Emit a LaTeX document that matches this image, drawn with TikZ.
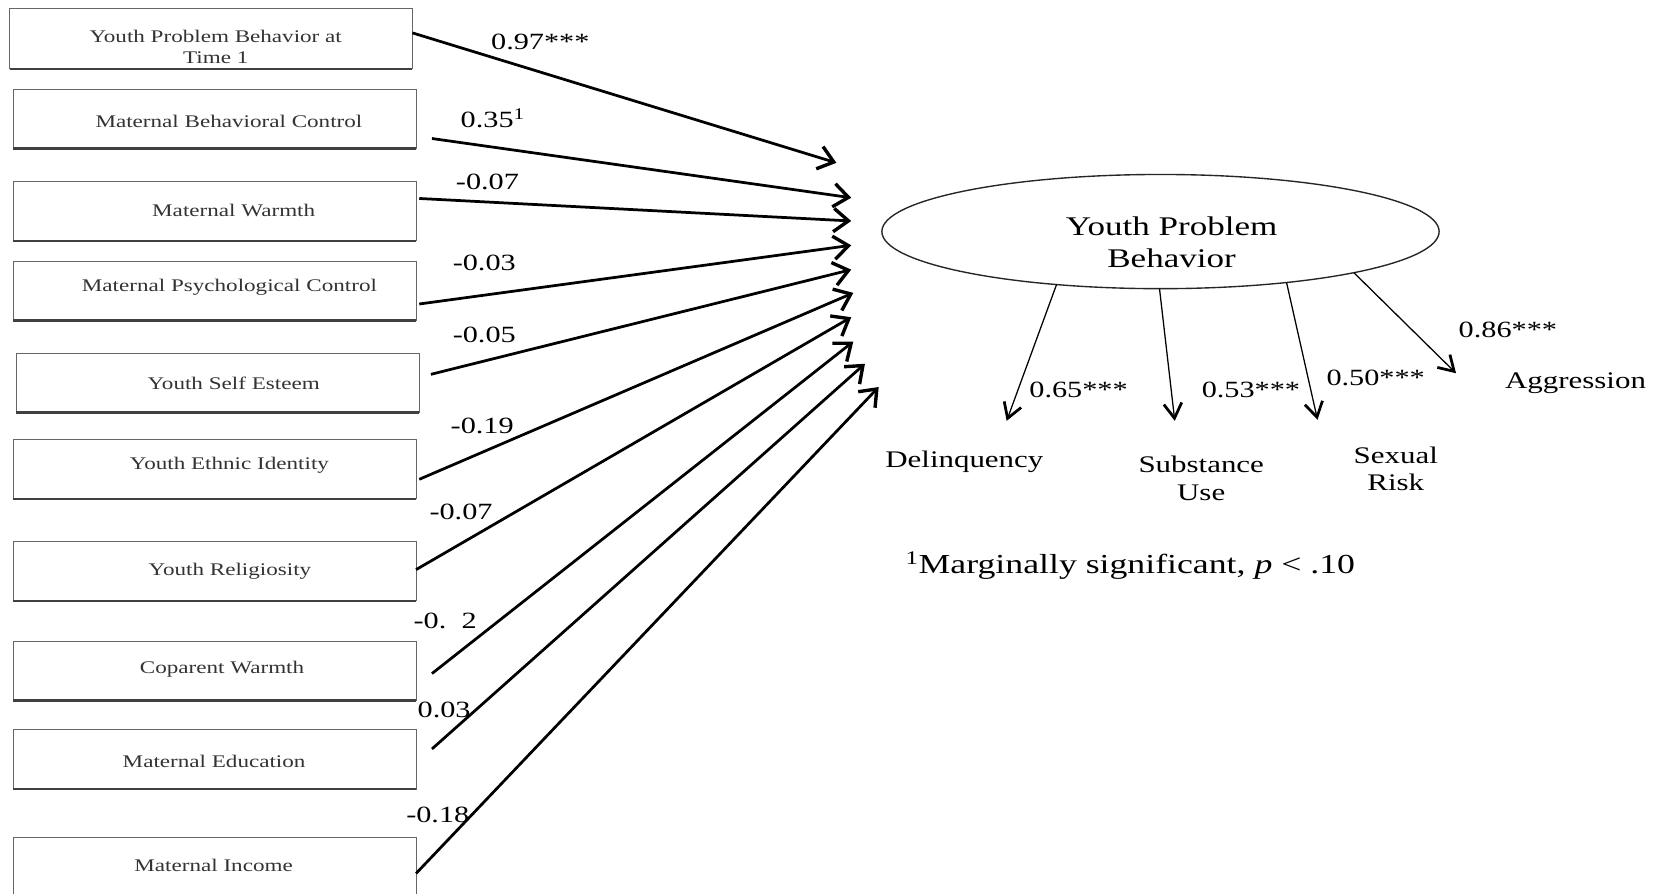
\documentclass[tikz,border=0pt]{standalone}
\usepackage{fontspec}
\setmainfont[FakeStretch=1.3]{Liberation Serif}
\usetikzlibrary{arrows.meta,shapes.geometric,calc}
\newcommand{\fsz}[2]{\fontsize{#1}{#2}\selectfont}

\begin{document}
\begin{tikzpicture}[x=1pt,y=-1pt,
  predbox/.style={draw=black!60, line width=1pt, minimum width=381pt, minimum height=56pt, inner sep=0pt, outer sep=0pt},
  boxshadow/.style={draw=black!75, line width=2.4pt},
  boxtext/.style={font=\fsz{16.8}{19.5}, text=black!80, align=center, inner sep=0pt},
  latent/.style={ellipse, draw=black!85, line width=1.3pt, minimum width=527pt, minimum height=108pt, inner sep=0pt, outer sep=0pt},
  latenttext/.style={font=\fsz{25.5}{30}, align=center, inner sep=0pt},
  coef/.style={font=\fsz{22}{26}, inner sep=0pt},
  outname/.style={font=\fsz{22.5}{26}, align=center, inner sep=0pt},
  patharrow/.style={line width=2.6pt, -{Straight Barb[length=14pt,width=22pt,line width=3.2pt]}},
  loadarrow/.style={line width=1.2pt, -{Straight Barb[length=14pt,width=17pt,line width=2.6pt]}},
]
\fill[white] (0,0) rectangle (1568,845);
\useasboundingbox (0,0) rectangle (1568,845);

% predictors
\node[predbox, minimum height=57pt] (b1) at (199.5,36.6) {};
\node[boxtext] (b1t) at (204,44.5) {Youth Problem Behavior at\\Time 1};
\node[predbox] (b2) at (203,112.5) {};
\node[boxtext] (b2t) at (216.5,115) {Maternal Behavioral Control};
\node[predbox] (b3) at (203,199.7) {};
\node[boxtext] (b3t) at (221,198.6) {Maternal Warmth};
\node[predbox] (b4) at (203,275) {};
\node[boxtext] (b4t) at (217,271.7) {Maternal Psychological Control};
\node[predbox] (b5) at (206,362) {};
\node[boxtext] (b5t) at (221,362.5) {Youth Self Esteem};
\node[predbox] (b6) at (203,443.8) {};
\node[boxtext] (b6t) at (217,439.8) {Youth Ethnic Identity};
\node[predbox] (b7) at (203,540.2) {};
\node[boxtext] (b7t) at (217.5,540.6) {Youth Religiosity};
\node[predbox] (b8) at (203,634.5) {};
\node[boxtext] (b8t) at (210,632.7) {Coparent Warmth};
\node[predbox] (b9) at (203,718.3) {};
\node[boxtext] (b9t) at (202.5,719.7) {Maternal Education};
\node[predbox] (b10) at (203,820) {};
\node[boxtext] (b10t) at (202,818.7) {Maternal Income};
\foreach \i in {1,...,10}
  \draw[boxshadow] (b\i.south west) -- (b\i.south east);

% path coefficients
\foreach \i/\tx/\ty in {1/791/154, 2/805/187, 3/805/209, 4/805/232, 5/805/255,
                        6/807/277, 7/805/300, 8/807/323, 9/818/344, 10/831/366}
  \coordinate (t\i) at (\tx,\ty);
\foreach \i/\dx/\dy in {1/0/-5.5, 2/15/18.5, 3/3/-12, 4/3/12.5, 5/11/-8,
                        6/3/9.5, 7/0/-1.5, 8/15/2.5, 9/15/-10, 10/0/6}
  \draw[patharrow] ($(b\i.east)+(\dx,\dy)$) -- (t\i);
\node[coef] (c1) at (511,40) {0.97***};
\node[coef] (c2) at (466,112) {0.35\textsuperscript{1}};
\node[coef] (c3) at (461,172) {-0.07};
\node[coef] (c4) at (458,249) {-0.03};
\node[coef] (c5) at (458,317) {-0.05};
\node[coef] (c6) at (456,403) {-0.19};
\node[coef] (c7) at (436,484) {-0.07};
\node[coef] (c8) at (421,587) {-0.\hphantom{0}2};
\node[coef] (c9) at (420,671) {0.03};
\node[coef] (c10) at (414,771) {-0.18};

% latent outcome and indicators
\node[latent] (ypb) at (1097.5,219) {};
\node[latenttext] (ypbt) at (1108,229) {Youth Problem\\Behavior};
\node[outname] (delq) at (912,437) {Delinquency};
\node[outname] (subst) at (1136,452.5) {Substance\\Use};
\node[outname] (sexr) at (1320,443.5) {Sexual\\Risk};
\node[outname] (aggr) at (1490,362) {Aggression};
\coordinate (e1) at (952,398);
\coordinate (e2) at (1111,398);
\coordinate (e3) at (1246,397);
\coordinate (e4) at (1377,353);
\draw[loadarrow] (ypb.207) -- (e1);
\draw[loadarrow] (ypb.269) -- (e2);
\draw[loadarrow] (ypb.338) -- (e3);
\draw[loadarrow] (ypb.348) -- (e4);
\node[coef] (l1) at (1020,369) {0.65***};
\node[coef] (l2) at (1183,369) {0.53***};
\node[coef] (l3) at (1301,357) {0.50***};
\node[coef] (l4) at (1426,312) {0.86***};

\node[font=\fsz{26}{30}, inner sep=0pt] (fnote) at (1069,535) {\textsuperscript{1}Marginally significant, \textit{p} < .10};
\end{tikzpicture}
\end{document}
